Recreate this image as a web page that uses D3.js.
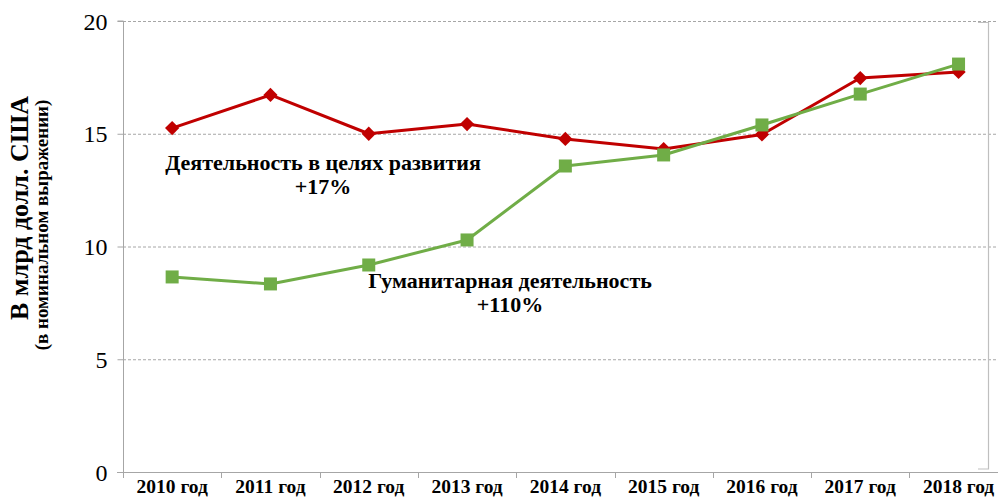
<!DOCTYPE html>
<html><head><meta charset="utf-8">
<script src="https://cdn.jsdelivr.net/npm/d3@7"></script>
<style>body{margin:0;background:#fff;} svg{display:block;}</style>
</head><body>
<svg id="c" width="998" height="497"></svg>
<script>
const categories = ["2010 год","2011 год","2012 год","2013 год","2014 год","2015 год","2016 год","2017 год","2018 год"];
const development = [15.25, 16.72, 15.0, 15.43, 14.77, 14.32, 14.97, 17.47, 17.74];
const humanitarian = [8.65, 8.34, 9.18, 10.29, 13.57, 14.06, 15.39, 16.76, 18.09];
const yTicks = [0, 5, 10, 15, 20];
const yTitle = ["В млрд долл. США", "(в номинальном выражении)"];
const notes = [
  {lines:["Деятельность в целях развития","+17%"], series:"development"},
  {lines:["Гуманитарная деятельность","+110%"], series:"humanitarian"}
];

const svg = d3.select("#c");
const L = 123, T = 21, B = 472, band = 98.3;
const x = d3.scaleBand().domain(categories).range([L, L + band*categories.length]);
const y = d3.scaleLinear().domain([0,20]).range([B, T]);
const font = "'Liberation Serif','Times New Roman',serif";

// gridlines
svg.append("g").selectAll("line").data(yTicks.filter(d=>d>0)).join("line")
  .attr("x1", L).attr("x2", 998).attr("y1", d=>y(d)+0.5).attr("y2", d=>y(d)+0.5)
  .attr("stroke", "#a6a6a6").attr("stroke-width", 1).attr("stroke-dasharray", "3,2");

// right bracket
svg.append("path").attr("d", `M978,${T+1.5}H988.5V${B-3}H978`).attr("fill","none")
  .attr("stroke","#bfbfbf").attr("stroke-width",1.2);

// y axis
const ya = svg.append("g").attr("transform", `translate(${L+0.5},0)`)
  .call(d3.axisLeft(y).tickValues(yTicks).tickSize(6).tickPadding(10).tickFormat(d3.format("d")));
ya.select(".domain").attr("stroke","#a6a6a6").attr("d", `M-6,${y(20)}H0V${B}`);
ya.selectAll(".tick line").attr("stroke","#a6a6a6");
ya.selectAll(".tick text").attr("font-family", font).attr("font-size", 24).attr("fill","#000")
  .attr("dy","0.34em");

// x axis
const xa = svg.append("g").attr("transform", `translate(0,${B+0.5})`)
  .call(d3.axisBottom(x).tickSize(0));
xa.select(".domain").attr("stroke","#a6a6a6").attr("d", `M${L-6},0H998`);
xa.selectAll(".tick text").attr("font-family", font).attr("font-size", 19.5)
  .attr("font-weight","bold").attr("fill","#000").attr("y", 20).attr("dy", 0);
svg.append("g").selectAll("line").data(categories).join("line")
  .attr("x1", d=>Math.round(x(d))+0.5).attr("x2", d=>Math.round(x(d))+0.5)
  .attr("y1", B).attr("y2", B+6).attr("stroke","#a6a6a6");

// lines
const cx = d => x(d) + x.bandwidth()/2;
const line = d3.line().x((d,i)=>cx(categories[i])).y(d=>y(d));
svg.append("path").datum(development).attr("d", line).attr("fill","none")
  .attr("stroke","#C00000").attr("stroke-width",3).attr("stroke-linejoin","round");
svg.append("g").selectAll("path").data(development).join("path")
  .attr("d", d3.symbol(d3.symbolDiamond2, 130)())
  .attr("transform",(d,i)=>`translate(${cx(categories[i])},${y(d)})`).attr("fill","#C00000");
svg.append("path").datum(humanitarian).attr("d", line).attr("fill","none")
  .attr("stroke","#70AD47").attr("stroke-width",3).attr("stroke-linejoin","round");
svg.append("g").selectAll("rect").data(humanitarian).join("rect")
  .attr("x",(d,i)=>cx(categories[i])-6.5).attr("y",d=>y(d)-6.5)
  .attr("width",13).attr("height",13).attr("fill","#70AD47");

// annotations
const notePos = [{x:323, y:170}, {x:510, y:288}];
notes.forEach((n,k)=>{
  const t = svg.append("text").attr("font-family",font).attr("font-weight","bold")
    .attr("font-size",22).attr("text-anchor","middle").attr("fill","#000");
  n.lines.forEach((s,j)=>t.append("tspan").attr("x",notePos[k].x).attr("y",notePos[k].y + j*24).text(s));
});

// y title
svg.append("text").attr("font-family",font).attr("font-weight","bold").attr("font-size",26)
  .attr("text-anchor","middle").attr("transform","translate(28,208) rotate(-90)").text(yTitle[0]);
svg.append("text").attr("font-family",font).attr("font-weight","bold").attr("font-size",19)
  .attr("text-anchor","middle").attr("transform","translate(48,225) rotate(-90)").text(yTitle[1]);
</script>
</body></html>
